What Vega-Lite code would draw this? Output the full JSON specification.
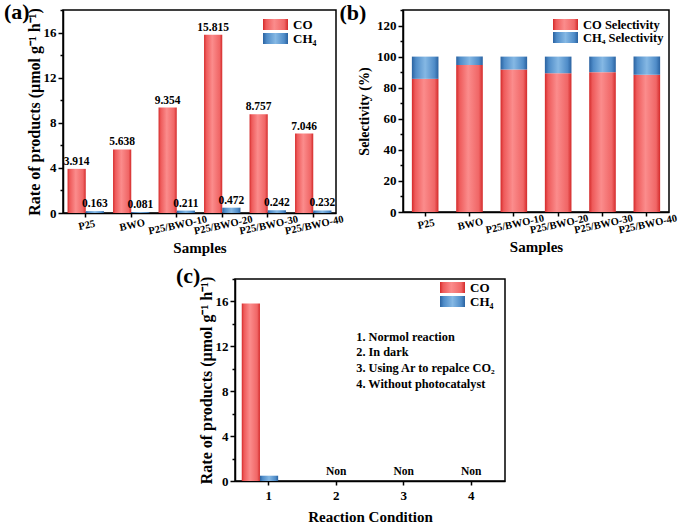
{
  "$schema": "https://vega.github.io/schema/vega-lite/v6.json",
  "padding": {"left": 3, "top": 0, "right": 5, "bottom": 0},
  "background": "white",
  "datasets": {
    "rates": [
      {"sample": "P25", "series": "CO", "value": 3.914},
      {"sample": "P25", "series": "CH₄", "value": 0.163},
      {"sample": "BWO", "series": "CO", "value": 5.638},
      {"sample": "BWO", "series": "CH₄", "value": 0.081},
      {"sample": "P25/BWO-10", "series": "CO", "value": 9.354},
      {"sample": "P25/BWO-10", "series": "CH₄", "value": 0.211},
      {"sample": "P25/BWO-20", "series": "CO", "value": 15.815},
      {"sample": "P25/BWO-20", "series": "CH₄", "value": 0.472},
      {"sample": "P25/BWO-30", "series": "CO", "value": 8.757},
      {"sample": "P25/BWO-30", "series": "CH₄", "value": 0.242},
      {"sample": "P25/BWO-40", "series": "CO", "value": 7.046},
      {"sample": "P25/BWO-40", "series": "CH₄", "value": 0.232}
    ],
    "sel": [
      {"sample": "P25", "series": "CO  Selectivity", "value": 85.7},
      {"sample": "P25", "series": "CH₄ Selectivity", "value": 14.3},
      {"sample": "BWO", "series": "CO  Selectivity", "value": 94.6},
      {"sample": "BWO", "series": "CH₄ Selectivity", "value": 5.4},
      {"sample": "P25/BWO-10", "series": "CO  Selectivity", "value": 91.7},
      {"sample": "P25/BWO-10", "series": "CH₄ Selectivity", "value": 8.3},
      {"sample": "P25/BWO-20", "series": "CO  Selectivity", "value": 89.3},
      {"sample": "P25/BWO-20", "series": "CH₄ Selectivity", "value": 10.7},
      {"sample": "P25/BWO-30", "series": "CO  Selectivity", "value": 90.0},
      {"sample": "P25/BWO-30", "series": "CH₄ Selectivity", "value": 10.0},
      {"sample": "P25/BWO-40", "series": "CO  Selectivity", "value": 88.4},
      {"sample": "P25/BWO-40", "series": "CH₄ Selectivity", "value": 11.6}
    ],
    "cond": [
      {"cond": "1", "series": "CO", "value": 15.815, "label": ""},
      {"cond": "1", "series": "CH₄", "value": 0.472, "label": ""},
      {"cond": "2", "series": "CO", "value": 0, "label": "Non"},
      {"cond": "2", "series": "CH₄", "value": 0, "label": ""},
      {"cond": "3", "series": "CO", "value": 0, "label": "Non"},
      {"cond": "3", "series": "CH₄", "value": 0, "label": ""},
      {"cond": "4", "series": "CO", "value": 0, "label": "Non"},
      {"cond": "4", "series": "CH₄", "value": 0, "label": ""}
    ]
  },
  "config": {
    "font": "Liberation Serif",
    "view": {"stroke": "black", "strokeWidth": 1.5},
    "axis": {
      "labelFont": "Liberation Serif", "labelFontWeight": "bold", "labelFontSize": 13, "labelColor": "black",
      "titleFont": "Liberation Serif", "titleFontWeight": "bold", "titleFontSize": 16, "titleColor": "black",
      "domainColor": "black", "domainWidth": 1.5, "tickColor": "black", "tickWidth": 1.5, "grid": false,
      "labelPadding": 2
    },
    "legend": {
      "labelFont": "Liberation Serif", "labelFontWeight": "bold", "labelFontSize": 13, "labelColor": "black",
      "symbolType": "M-2,-0.88H2V0.88H-2Z", "symbolSize": 156, "symbolStrokeWidth": 0, "title": null,
      "rowPadding": -3, "labelOffset": 11, "padding": 0
    },
    "title": {"font": "Liberation Serif", "fontWeight": "bold", "fontSize": 22, "color": "black"},
    "text": {"font": "Liberation Serif", "fontWeight": "bold", "color": "black"}
  },
  "resolve": {"scale": {"color": "independent", "x": "independent", "y": "independent"}, "legend": {"color": "independent"}},
  "spacing": 7,
  "vconcat": [
    {
      "spacing": -7,
      "resolve": {"scale": {"color": "independent", "x": "independent", "y": "independent"}, "legend": {"color": "independent"}},
      "hconcat": [
        {
          "width": 273, "height": 203,
          "title": {"text": "(a)", "anchor": "start", "frame": "bounds", "offset": -16, "dx": -22},
          "data": {"name": "rates"},
          "encoding": {
            "x": {"field": "sample", "type": "nominal", "sort": ["P25", "BWO", "P25/BWO-10", "P25/BWO-20", "P25/BWO-30", "P25/BWO-40"],
                  "scale": {"paddingInner": 0.2, "paddingOuter": 0.1},
                  "title": "Samples",
                  "axis": {"labelAngle": -12, "labelAlign": "center", "labelBaseline": "top", "labelFontSize": 10.5, "titleFontSize": 15, "tickSize": 4, "labelPadding": 3, "titlePadding": 4}},
            "xOffset": {"field": "series", "type": "nominal", "sort": ["CO", "CH₄"], "scale": {"paddingInner": 0}},
            "y": {"field": "value", "type": "quantitative", "scale": {"domain": [0, 18], "nice": false},
                  "title": "Rate of products (μmol g⁻¹ h⁻¹)",
                  "axis": {"values": [0, 2, 4, 6, 8, 10, 12, 14, 16, 18], "labelExpr": "datum.value % 4 === 0 ? datum.label : ''",
                           "tickSize": {"condition": {"test": "datum.value % 4 === 0", "value": 5}, "value": 3}, "titlePadding": 1}}
          },
          "layer": [
            {
              "mark": {"type": "bar", "strokeWidth": 0},
              "encoding": {
                "color": {"field": "series", "type": "nominal",
                  "scale": {"domain": ["CO", "CH₄"], "range": [
                    {"expr": "{gradient: 'linear', x1: 0, y1: 0, x2: 1, y2: 0, stops: [{offset: 0, color: '#d42a2a'}, {offset: 0.12, color: '#ee5a5a'}, {offset: 0.45, color: '#fb8c8c'}, {offset: 0.85, color: '#f06666'}, {offset: 1, color: '#d42a2a'}]}"},
                    {"expr": "{gradient: 'linear', x1: 0, y1: 0, x2: 1, y2: 0, stops: [{offset: 0, color: '#2a62a0'}, {offset: 0.15, color: '#4f8cc8'}, {offset: 0.5, color: '#85b8e4'}, {offset: 0.85, color: '#4f8cc8'}, {offset: 1, color: '#2a62a0'}]}"}
                  ]},
                  "legend": {"orient": "none", "legendX": 206, "legendY": 8}}
              }
            },
            {
              "mark": {"type": "text", "baseline": "bottom", "dy": -2, "fontSize": 11.5},
              "encoding": {"text": {"field": "value", "type": "quantitative", "format": ".3f"}}
            }
          ]
        },
        {
          "width": 266, "height": 202,
          "title": {"text": "(b)", "anchor": "start", "frame": "bounds", "offset": -16, "dx": -18},
          "data": {"name": "sel"},
          "mark": {"type": "bar", "strokeWidth": 0},
          "encoding": {
            "x": {"field": "sample", "type": "nominal", "sort": ["P25", "BWO", "P25/BWO-10", "P25/BWO-20", "P25/BWO-30", "P25/BWO-40"],
                  "scale": {"paddingInner": 0.4, "paddingOuter": 0.2},
                  "title": "Samples",
                  "axis": {"labelAngle": -12, "labelAlign": "center", "labelBaseline": "top", "labelFontSize": 10.5, "titleFontSize": 15, "tickSize": 4, "labelPadding": 3, "titlePadding": 4}},
            "y": {"field": "value", "type": "quantitative", "stack": "zero", "scale": {"domain": [0, 130], "nice": false},
                  "title": "Selectivity (%)",
                  "axis": {"values": [0, 10, 20, 30, 40, 50, 60, 70, 80, 90, 100, 110, 120, 130], "labelExpr": "datum.value % 20 === 0 ? datum.label : ''",
                           "tickSize": {"condition": {"test": "datum.value % 20 === 0", "value": 5}, "value": 3}, "titleFontSize": 14, "titlePadding": 5}},
            "order": {"field": "series", "sort": "descending"},
            "color": {"field": "series", "type": "nominal",
              "scale": {"domain": ["CO  Selectivity", "CH₄ Selectivity"], "range": [
                {"expr": "{gradient: 'linear', x1: 0, y1: 0, x2: 1, y2: 0, stops: [{offset: 0, color: '#d42a2a'}, {offset: 0.12, color: '#ee5a5a'}, {offset: 0.45, color: '#fb8c8c'}, {offset: 0.85, color: '#f06666'}, {offset: 1, color: '#d42a2a'}]}"},
                {"expr": "{gradient: 'linear', x1: 0, y1: 0, x2: 1, y2: 0, stops: [{offset: 0, color: '#2a62a0'}, {offset: 0.15, color: '#4f8cc8'}, {offset: 0.5, color: '#85b8e4'}, {offset: 0.85, color: '#4f8cc8'}, {offset: 1, color: '#2a62a0'}]}"}
              ]},
              "legend": {"orient": "none", "legendX": 156, "legendY": 8, "labelFontSize": 12.5, "rowPadding": -1}}
          }
        }
      ]
    },
    {
      "spacing": 0,
      "resolve": {"scale": {"color": "independent", "x": "independent", "y": "independent"}, "legend": {"color": "independent"}},
      "hconcat": [
        {"width": 112, "height": 10, "view": {"stroke": null}, "data": {"values": []}, "mark": "point", "encoding": {}},
        {
          "width": 270, "height": 202,
          "title": {"text": "(c)", "anchor": "start", "frame": "bounds", "offset": -12, "dx": -22},
          "data": {"name": "cond"},
          "encoding": {
            "x": {"field": "cond", "type": "nominal", "sort": ["1", "2", "3", "4"],
                  "scale": {"paddingInner": 0.2, "paddingOuter": 0.1},
                  "title": "Reaction Condition",
                  "axis": {"labelAngle": 0, "labelFontSize": 13, "titleFontSize": 15, "tickSize": 4, "labelPadding": 4, "titlePadding": 7}},
            "y": {"field": "value", "type": "quantitative", "scale": {"domain": [0, 18], "nice": false},
                  "title": "Rate of products (μmol g⁻¹ h⁻¹)",
                  "axis": {"values": [0, 2, 4, 6, 8, 10, 12, 14, 16, 18], "labelExpr": "datum.value % 4 === 0 ? datum.label : ''",
                           "tickSize": {"condition": {"test": "datum.value % 4 === 0", "value": 5}, "value": 3}, "titlePadding": 1}}
          },
          "layer": [
            {
              "mark": {"type": "bar", "strokeWidth": 0},
              "encoding": {
                "xOffset": {"field": "series", "type": "nominal", "sort": ["CO", "CH₄"], "scale": {"paddingInner": 0}},
                "color": {"field": "series", "type": "nominal",
                  "scale": {"domain": ["CO", "CH₄"], "range": [
                    {"expr": "{gradient: 'linear', x1: 0, y1: 0, x2: 1, y2: 0, stops: [{offset: 0, color: '#d42a2a'}, {offset: 0.12, color: '#ee5a5a'}, {offset: 0.45, color: '#fb8c8c'}, {offset: 0.85, color: '#f06666'}, {offset: 1, color: '#d42a2a'}]}"},
                    {"expr": "{gradient: 'linear', x1: 0, y1: 0, x2: 1, y2: 0, stops: [{offset: 0, color: '#2a62a0'}, {offset: 0.15, color: '#4f8cc8'}, {offset: 0.5, color: '#85b8e4'}, {offset: 0.85, color: '#4f8cc8'}, {offset: 1, color: '#2a62a0'}]}"}
                  ]},
                  "legend": {"orient": "none", "legendX": 211, "legendY": 2, "rowPadding": -1.5}}
              }
            },
            {
              "mark": {"type": "text", "baseline": "bottom", "dy": -4, "fontSize": 11.5},
              "encoding": {"text": {"field": "label", "type": "nominal"}}
            },
            {
              "transform": [{"filter": "datum.cond === '2' && datum.series === 'CO'"}],
              "mark": {"type": "text", "align": "left", "baseline": "top", "dx": 20, "fontSize": 12.3, "lineHeight": 15.7},
              "encoding": {"y": {"datum": 13.4}, "text": {"value": ["1. Normol reaction", "2. In dark", "3. Using Ar to repalce CO₂", "4. Without photocatalyst"]}}
            }
          ]
        }
      ]
    }
  ]
}
